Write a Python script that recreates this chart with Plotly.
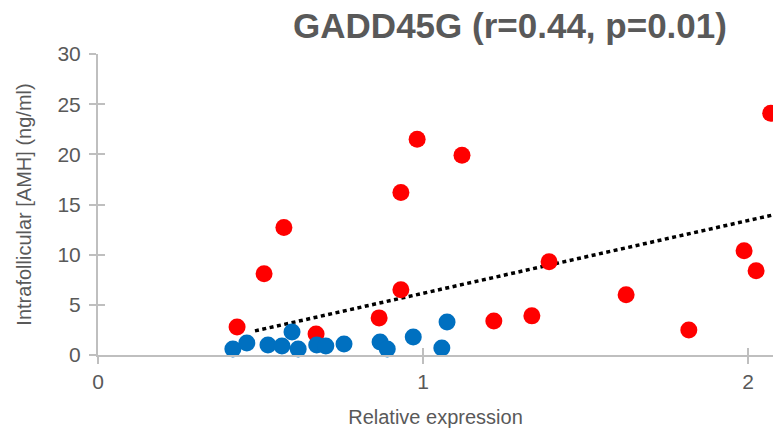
import plotly.graph_objects as go

# Relative GADD45G expression vs intrafollicular AMH
red_x = [0.428, 0.511, 0.572, 0.671, 0.865, 0.932, 0.932, 0.982, 1.12, 1.218,
         1.335, 1.388, 1.625, 1.818, 1.988, 2.025, 2.07]
red_y = [2.8, 8.1, 12.7, 2.1, 3.7, 16.2, 6.5, 21.5, 19.9, 3.4,
         3.9, 9.3, 6.0, 2.5, 10.4, 8.4, 24.1]

blue_x = [0.415, 0.458, 0.523, 0.566, 0.597, 0.616, 0.673, 0.701, 0.757,
          0.868, 0.89, 0.97, 1.058, 1.074]
blue_y = [0.6, 1.2, 1.0, 0.9, 2.3, 0.6, 1.0, 0.9, 1.1,
          1.3, 0.6, 1.8, 0.7, 3.3]

# linear trend line: y = slope * x + intercept
trend_slope = 7.25
trend_intercept = -1.10
trend_x = [0.483, 2.077]
trend_y = [trend_slope * v + trend_intercept for v in trend_x]

x_range = [0, 2.077]
y_range = [0, 30]
x_ticks = [0, 1, 2]
y_ticks = [0, 5, 10, 15, 20, 25, 30]

GRAY_TEXT = "#595959"
AXIS_GRAY = "#bfbfbf"
FONT = "Liberation Sans, Arial, sans-serif"

fig = go.Figure()

fig.add_trace(go.Scatter(
    x=trend_x, y=trend_y, mode="lines",
    line=dict(color="black", width=3.5, dash="4px,3.5px"),
    hoverinfo="skip", cliponaxis=False,
))
fig.add_trace(go.Scatter(
    x=red_x, y=red_y, mode="markers",
    marker=dict(color="#ff0000", size=17, line=dict(width=0)),
    cliponaxis=False,
))
fig.add_trace(go.Scatter(
    x=blue_x, y=blue_y, mode="markers",
    marker=dict(color="#0070c0", size=17, line=dict(width=0)),
    cliponaxis=False,
))

axis_common = dict(
    showgrid=False, zeroline=False, showline=True,
    linecolor=AXIS_GRAY, linewidth=2,
    ticks="outside", tickcolor=AXIS_GRAY, tickwidth=2, ticklen=7,
    tickfont=dict(family=FONT, size=21, color=GRAY_TEXT),
)

fig.update_layout(
    width=773, height=431,
    margin=dict(l=98, r=0, t=54, b=76),
    paper_bgcolor="white", plot_bgcolor="white",
    showlegend=False,
    title=dict(
        text="<b>GADD45G (r=0.44, p=0.01)</b>",
        font=dict(family=FONT, size=35, color=GRAY_TEXT),
        xref="container", x=510 / 773, xanchor="center",
        yref="container", y=1 - 26 / 431, yanchor="middle",
    ),
    xaxis=dict(
        range=x_range, tickvals=x_ticks, ticktext=[str(t) for t in x_ticks],
        title=dict(text="Relative expression",
                   font=dict(family=FONT, size=20, color=GRAY_TEXT), standoff=18),
        **axis_common,
    ),
    yaxis=dict(
        range=y_range, tickvals=y_ticks, ticklabelstandoff=4,
        title=dict(text="Intrafollicular [AMH] (ng/ml)",
                   font=dict(family=FONT, size=20, color=GRAY_TEXT), standoff=20),
        **axis_common,
    ),
    # overlay axes carrying the inward half of the crossing tick marks
    xaxis2=dict(overlaying="x", range=x_range, tickvals=x_ticks,
                showticklabels=False, showgrid=False, zeroline=False,
                showline=False, ticks="inside", tickcolor=AXIS_GRAY,
                tickwidth=2, ticklen=7, side="bottom"),
    yaxis2=dict(overlaying="y", range=y_range, tickvals=y_ticks,
                showticklabels=False, showgrid=False, zeroline=False,
                showline=False, ticks="inside", tickcolor=AXIS_GRAY,
                tickwidth=2, ticklen=7, side="left"),
)

# invisible trace to activate the overlay axes
fig.add_trace(go.Scatter(x=[None], y=[None], xaxis="x2", yaxis="y2",
                         mode="markers", hoverinfo="skip", showlegend=False))

fig.write_html("out.html")
